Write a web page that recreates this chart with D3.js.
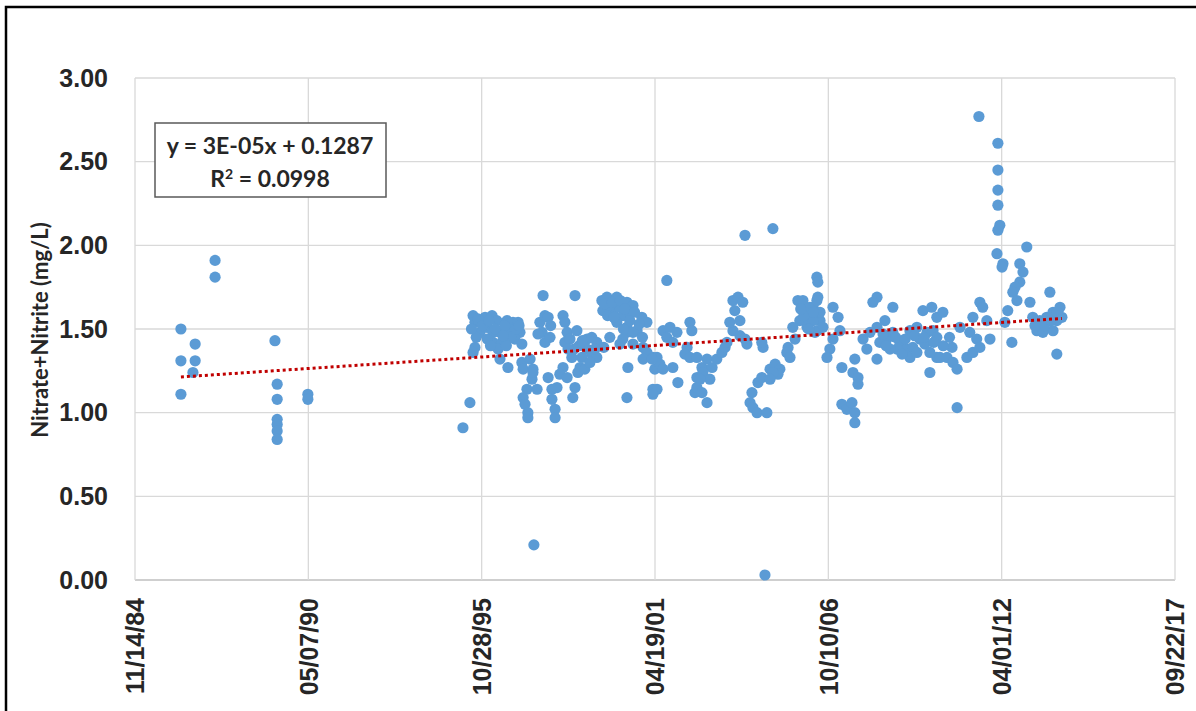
<!DOCTYPE html>
<html>
<head>
<meta charset="utf-8">
<script src="https://cdn.jsdelivr.net/npm/d3@7/dist/d3.min.js"></script>
<style>
  html, body { margin: 0; padding: 0; background: #fff; overflow: hidden; }
  svg { display: block; font-family: Lato, "Open Sans", sans-serif; }
  .tick text { font-weight: bold; fill: #262626; }
</style>
</head>
<body>
<div id="chart"></div>
<script>
// Axis ticks (Excel date serials 31000..43000, step 2000)
var xTickLabels = ["11/14/84", "05/07/90", "10/28/95", "04/19/01", "10/10/06", "04/01/12", "09/22/17"];
var yTickValues = [0, 0.5, 1, 1.5, 2, 2.5, 3];

// Linear trendline reported by the sheet (x = Excel date serial)
var trendSlope = 3.44e-5,
    trendIntercept = 0.1287;
var trendLabel = "y = 3E-05x + 0.1287";
var r2Label = "0.0998";

// Samples: [decimal year, nitrate+nitrite mg/L]
var samples1986 = [
  [1986.32, 1.50], [1986.32, 1.31], [1986.32, 1.11], [1986.77, 1.41], [1986.77, 1.31],
  [1986.70, 1.24], [1987.40, 1.91], [1987.40, 1.81], [1989.29, 1.43], [1989.36, 1.17],
  [1989.36, 1.08], [1989.36, 0.96], [1989.36, 0.93], [1989.36, 0.89], [1989.36, 0.84],
  [1990.33, 1.11], [1990.33, 1.08]
];

var samples1995 = [
  [1995.23, 0.91], [1995.45, 1.06], [1995.55, 1.58], [1995.61, 1.54], [1995.77, 1.48],
  [1995.61, 1.39], [1995.55, 1.36], [1995.93, 1.57], [1995.99, 1.51], [1996.15, 1.58],
  [1996.30, 1.55], [1996.18, 1.48], [1996.18, 1.42], [1996.40, 1.48], [1996.46, 1.42],
  [1996.34, 1.38], [1996.62, 1.55], [1996.71, 1.49], [1996.81, 1.54], [1996.97, 1.54],
  [1997.03, 1.48], [1996.87, 1.44], [1997.09, 1.41], [1996.40, 1.32], [1996.65, 1.27],
  [1997.09, 1.30], [1997.13, 1.26], [1997.35, 1.32], [1997.44, 1.26], [1997.41, 1.20],
  [1997.25, 1.14], [1997.13, 1.09], [1997.19, 1.05], [1997.28, 1.00], [1997.28, 0.97],
  [1997.57, 1.14], [1997.44, 1.24], [1997.47, 0.21], [1997.76, 1.70], [1997.66, 1.54],
  [1997.73, 1.48], [1997.82, 1.58], [1997.92, 1.57], [1997.82, 1.42], [1997.98, 1.45],
  [1997.92, 1.21], [1998.04, 1.14], [1998.04, 1.08], [1998.20, 1.15], [1998.14, 1.02],
  [1998.14, 0.97], [1998.39, 1.58], [1998.45, 1.54], [1998.52, 1.48], [1998.45, 1.42],
  [1998.61, 1.44], [1998.67, 1.33], [1998.39, 1.27], [1998.29, 1.23], [1998.52, 1.21],
  [1998.77, 1.70], [1998.77, 1.15], [1998.70, 1.09], [1998.83, 1.49], [1998.74, 1.38],
  [1999.15, 1.44], [1999.30, 1.45], [1999.46, 1.42], [1999.15, 1.38], [1999.30, 1.35],
  [1999.46, 1.33], [1998.99, 1.33], [1998.93, 1.27], [1998.86, 1.24], [1999.08, 1.26],
  [1999.24, 1.30], [1999.62, 1.67], [1999.78, 1.69], [2000.09, 1.69], [2000.41, 1.66],
  [2000.60, 1.64], [2000.88, 1.57], [2001.04, 1.54], [1999.65, 1.61], [1999.97, 1.60],
  [2000.28, 1.58], [2000.50, 1.60], [2000.09, 1.54], [2000.41, 1.51], [2000.73, 1.49],
  [2000.19, 1.63], [1999.87, 1.64], [2000.41, 1.48], [2000.60, 1.48], [2000.28, 1.44],
  [2000.19, 1.41], [2000.60, 1.41], [2000.44, 1.27], [2000.41, 1.09], [2000.92, 1.39],
  [2001.04, 1.36], [2000.92, 1.32], [1999.68, 1.39], [1999.87, 1.45],
  [1995.70, 1.56], [1995.85, 1.52], [1996.05, 1.55], [1996.25, 1.50], [1996.55, 1.52],
  [1996.75, 1.45], [1996.90, 1.50], [1995.65, 1.45], [1996.00, 1.44], [1996.60, 1.40],
  [1997.00, 1.52], [1995.50, 1.50], [1996.10, 1.40], [1996.50, 1.46], [1997.60, 1.47],
  [1998.00, 1.52], [1998.55, 1.38], [1998.90, 1.40], [1999.00, 1.43], [1999.40, 1.38],
  [1999.70, 1.65], [1999.95, 1.66], [2000.20, 1.67], [2000.35, 1.62], [2000.65, 1.60],
  [2000.80, 1.53], [1999.80, 1.58], [2000.00, 1.57], [2000.50, 1.55], [2000.90, 1.45],
  [2000.30, 1.50]
];

var samples2001 = [
  [2001.23, 1.33], [2001.29, 1.26], [2001.23, 1.14], [2001.67, 1.79], [2001.55, 1.49],
  [2001.77, 1.51], [2001.99, 1.48], [2001.67, 1.45], [2001.86, 1.42], [2001.36, 1.33],
  [2001.45, 1.29], [2001.55, 1.26], [2001.20, 1.32], [2001.36, 1.14], [2001.23, 1.11],
  [2001.86, 1.27], [2002.02, 1.18], [2002.40, 1.54], [2002.46, 1.49], [2002.31, 1.39],
  [2002.24, 1.35], [2002.40, 1.33], [2002.62, 1.21], [2002.56, 1.12], [2002.62, 1.33],
  [2002.78, 1.27], [2002.94, 1.32], [2003.10, 1.27], [2003.25, 1.32], [2003.41, 1.36],
  [2003.51, 1.39], [2003.57, 1.42], [2002.81, 1.24], [2003.03, 1.20], [2002.72, 1.20],
  [2002.62, 1.15], [2002.78, 1.12], [2002.94, 1.06], [2003.76, 1.67], [2003.92, 1.69],
  [2004.07, 1.66], [2003.82, 1.61], [2003.98, 1.55], [2003.76, 1.49], [2003.66, 1.54],
  [2003.98, 1.46], [2004.14, 1.44], [2004.20, 1.41], [2004.14, 2.06], [2005.02, 2.10],
  [2004.71, 1.39], [2004.67, 1.42], [2004.36, 1.12], [2004.30, 1.06], [2004.39, 1.03],
  [2004.52, 1.00], [2004.83, 1.00], [2004.77, 0.03], [2004.55, 1.18], [2004.67, 1.21],
  [2004.93, 1.26], [2005.09, 1.29], [2005.24, 1.26], [2005.18, 1.23], [2005.02, 1.24],
  [2004.93, 1.20], [2005.50, 1.39], [2005.46, 1.36], [2005.56, 1.33], [2005.72, 1.44],
  [2005.81, 1.67], [2006.41, 1.81], [2006.44, 1.78], [2006.19, 1.55], [2005.87, 1.55],
  [2005.65, 1.51], [2006.03, 1.60], [2006.29, 1.63], [2006.44, 1.69], [2006.51, 1.55],
  [2006.10, 1.51], [2006.41, 1.49], [2005.97, 1.67], [2006.19, 1.63], [2006.41, 1.67],
  [2006.51, 1.60], [2006.29, 1.55], [2006.60, 1.51], [2006.35, 1.48], [2006.92, 1.63],
  [2007.08, 1.57], [2007.14, 1.49], [2006.92, 1.44], [2006.82, 1.38], [2006.73, 1.33],
  [2007.20, 1.27], [2006.00, 1.58], [2006.30, 1.60], [2006.15, 1.50], [2005.90, 1.62]
];

var samples2007 = [
  [2007.20, 1.05], [2007.36, 1.02], [2007.52, 1.06], [2007.61, 1.00], [2007.61, 0.94],
  [2007.55, 1.24], [2007.61, 1.32], [2007.71, 1.21], [2007.71, 1.17], [2007.87, 1.44],
  [2007.99, 1.38], [2008.09, 1.48], [2008.31, 1.51], [2008.40, 1.42], [2008.31, 1.32],
  [2008.62, 1.44], [2008.81, 1.48], [2009.03, 1.42], [2009.25, 1.38], [2009.44, 1.39],
  [2009.66, 1.44], [2009.89, 1.48], [2010.08, 1.49], [2009.35, 1.49], [2009.57, 1.51],
  [2008.94, 1.38], [2008.72, 1.38], [2009.35, 1.33], [2009.57, 1.36], [2008.31, 1.69],
  [2008.18, 1.66], [2008.81, 1.63], [2008.56, 1.55], [2009.76, 1.61], [2010.04, 1.63],
  [2010.20, 1.57], [2009.98, 1.24], [2010.20, 1.33], [2010.39, 1.60], [2010.20, 1.45],
  [2009.82, 1.41], [2009.98, 1.36], [2010.30, 1.33], [2010.52, 1.33], [2010.68, 1.39],
  [2010.71, 1.30], [2010.84, 1.26], [2010.84, 1.03], [2010.93, 1.51], [2011.15, 1.33],
  [2011.34, 1.36], [2011.24, 1.48], [2011.46, 1.44], [2011.56, 1.39], [2011.88, 1.44],
  [2011.34, 1.57], [2011.78, 1.55], [2011.56, 1.66], [2011.65, 1.63], [2011.53, 2.77],
  [2012.13, 2.61], [2012.13, 2.45], [2012.13, 2.33], [2012.13, 2.24], [2012.19, 2.12],
  [2012.13, 2.09], [2012.10, 1.95], [2012.29, 1.89], [2012.26, 1.87], [2013.04, 1.99],
  [2012.82, 1.89], [2012.92, 1.84], [2012.82, 1.78], [2012.67, 1.75], [2012.60, 1.72],
  [2012.73, 1.67], [2012.44, 1.61], [2013.14, 1.66], [2013.77, 1.72], [2012.57, 1.42],
  [2013.99, 1.35], [2013.23, 1.57], [2013.45, 1.55], [2013.67, 1.57], [2013.87, 1.60],
  [2014.09, 1.63], [2013.99, 1.55], [2013.36, 1.49], [2013.55, 1.48], [2013.87, 1.49],
  [2012.35, 1.54], [2014.15, 1.57], [2008.50, 1.47], [2008.90, 1.45], [2009.20, 1.44],
  [2009.50, 1.46], [2009.80, 1.45], [2010.10, 1.42], [2010.40, 1.40], [2010.60, 1.45],
  [2009.10, 1.35], [2008.60, 1.40], [2013.30, 1.52], [2013.60, 1.52], [2013.80, 1.55],
  [2014.00, 1.60]
];

var W = 1196, H = 711;
var plot = {left: 135, right: 1175, top: 78, bottom: 580};

var parseTick = d3.utcParse("%m/%d/%y");
var xTickDates = xTickLabels.map(parseTick);

function yearToDate(y) {
    var yr = Math.floor(y);
    var a = Date.UTC(yr, 0, 1), b = Date.UTC(yr + 1, 0, 1);
    return new Date(a + (y - yr) * (b - a));
}
function excelSerial(d) {
    return (d - Date.UTC(1899, 11, 30)) / 864e5;
}

var data = [].concat(samples1986, samples1995, samples2001, samples2007).map(function(d) {
    return {date: yearToDate(d[0]), value: d[1]};
});

var x = d3.scaleUtc()
    .domain([xTickDates[0], xTickDates[xTickDates.length - 1]])
    .range([plot.left, plot.right]);
var y = d3.scaleLinear().domain([0, 3]).range([plot.bottom, plot.top]);

var svg = d3.select("#chart").append("svg")
    .attr("width", W)
    .attr("height", H);

// outer frame (left and top edges visible)
svg.append("rect")
    .attr("x", 6).attr("y", 7)
    .attr("width", W + 20).attr("height", H + 20)
    .attr("fill", "#fff")
    .attr("stroke", "#000")
    .attr("stroke-width", 2.5);

// gridlines
svg.append("g")
    .selectAll("line")
    .data(yTickValues)
    .enter().append("line")
    .attr("x1", plot.left).attr("x2", plot.right)
    .attr("y1", function(d) { return y(d); })
    .attr("y2", function(d) { return y(d); })
    .attr("stroke", function(d) { return d === 0 ? "#bfbfbf" : "#d9d9d9"; })
    .attr("stroke-width", 1.3);

svg.append("g")
    .selectAll("line")
    .data(xTickDates)
    .enter().append("line")
    .attr("x1", function(d) { return x(d); })
    .attr("x2", function(d) { return x(d); })
    .attr("y1", plot.top).attr("y2", plot.bottom)
    .attr("stroke", "#d9d9d9")
    .attr("stroke-width", 1.3);

// Y axis labels
var yAxis = d3.axisLeft(y)
    .tickValues(yTickValues)
    .tickFormat(d3.format(".2f"))
    .tickSize(0)
    .tickPadding(27);
svg.append("g")
    .attr("transform", "translate(" + plot.left + ",0)")
    .call(yAxis)
    .call(function(g) { g.select(".domain").remove(); })
    .selectAll("text")
    .style("font-size", "25px");

// X axis labels, rotated
var xAxis = d3.axisBottom(x)
    .tickValues(xTickDates)
    .tickFormat(d3.utcFormat("%m/%d/%y"))
    .tickSize(0);
svg.append("g")
    .attr("transform", "translate(0," + plot.bottom + ")")
    .call(xAxis)
    .call(function(g) { g.select(".domain").remove(); })
    .selectAll("text")
    .style("font-size", "25px")
    .attr("text-anchor", "end")
    .attr("transform", "rotate(-90)")
    .attr("x", -18)
    .attr("y", 0)
    .attr("dy", "0.35em");

// Y axis title
svg.append("text")
    .attr("transform", "translate(48," + ((plot.top + plot.bottom) / 2 + 1) + ") rotate(-90)")
    .attr("text-anchor", "middle")
    .style("font-size", "22px")
    .style("font-weight", "bold")
    .attr("fill", "#262626")
    .text("Nitrate+Nitrite  (mg/L)");

// scatter points
svg.append("g")
    .selectAll("circle")
    .data(data)
    .enter().append("circle")
    .attr("cx", function(d) { return x(d.date); })
    .attr("cy", function(d) { return y(d.value); })
    .attr("r", 5.6)
    .attr("fill", "#5b9bd5");

// trendline over the sampled period
var ext = d3.extent(data, function(d) { return d.date; });
var trendPts = ext.map(function(d) {
    return {date: d, value: trendIntercept + trendSlope * excelSerial(d)};
});
svg.append("path")
    .datum(trendPts)
    .attr("fill", "none")
    .attr("stroke", "#c00000")
    .attr("stroke-width", 3)
    .attr("stroke-dasharray", "3 3")
    .attr("d", d3.line()
        .x(function(d) { return x(d.date); })
        .y(function(d) { return y(d.value); }));

// equation box
var box = svg.append("g");
box.append("rect")
    .attr("x", 155).attr("y", 123)
    .attr("width", 231).attr("height", 74)
    .attr("fill", "#fff")
    .attr("stroke", "#595959")
    .attr("stroke-width", 1.5);
box.append("text")
    .attr("x", 270).attr("y", 154)
    .attr("text-anchor", "middle")
    .style("font-size", "23px")
    .style("font-weight", "bold")
    .attr("fill", "#262626")
    .text(trendLabel);
var r2 = box.append("text")
    .attr("x", 270).attr("y", 187)
    .attr("text-anchor", "middle")
    .style("font-size", "23px")
    .style("font-weight", "bold")
    .attr("fill", "#262626");
r2.append("tspan").text("R");
r2.append("tspan").attr("dy", -8).style("font-size", "14px").text("2");
r2.append("tspan").attr("dy", 8).text(" = " + r2Label);
</script>
</body>
</html>
